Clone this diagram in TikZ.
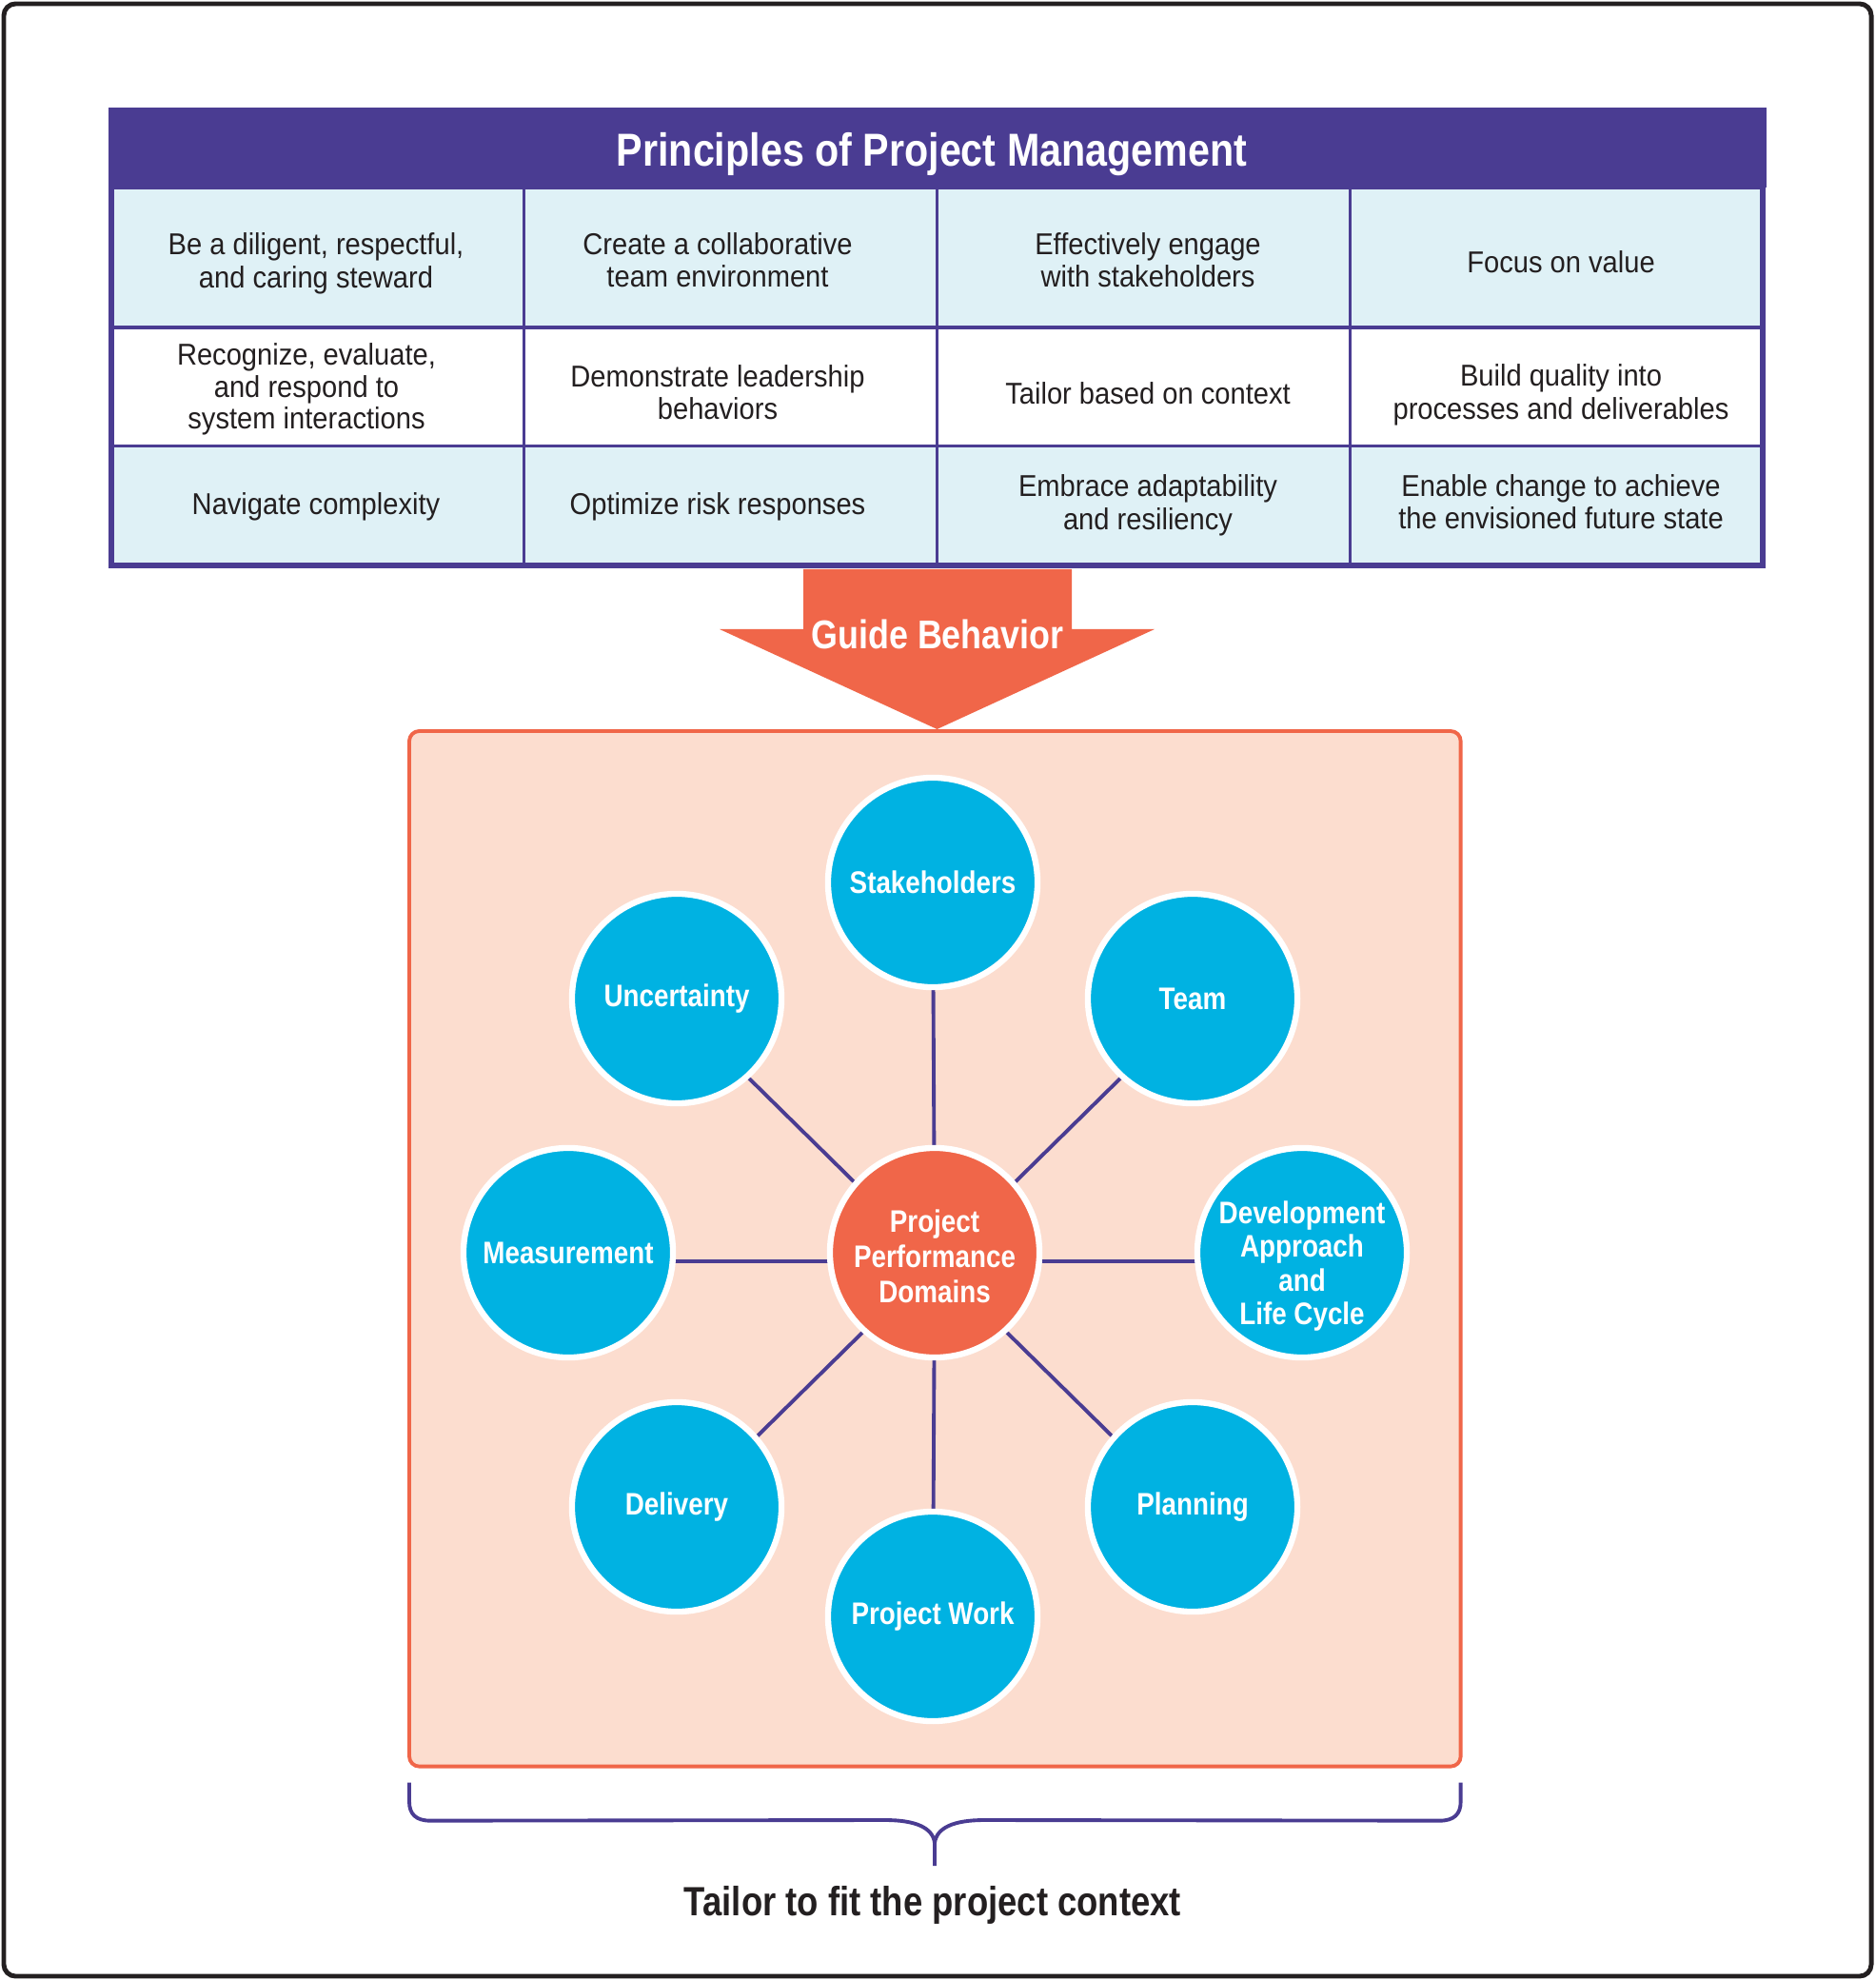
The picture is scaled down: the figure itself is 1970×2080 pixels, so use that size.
\documentclass[tikz,border=0pt]{standalone}
\usepackage{fontspec}
\setmainfont{Liberation Sans}[FakeStretch=0.92]
\newfontfamily\cbfam{Liberation Sans}[FakeStretch=0.85]
\definecolor{pmpurple}{RGB}{74,60,146}
\definecolor{pmcell}{RGB}{223,241,246}
\definecolor{pmorange}{RGB}{240,102,73}
\definecolor{pmsalmon}{RGB}{252,221,207}
\definecolor{pmblue}{RGB}{0,178,226}
\definecolor{pmink}{RGB}{35,31,32}
\pgfdeclarelayer{back}
\pgfdeclarelayer{links}
\pgfsetlayers{back,links,main}
\tikzset{
  cellbox/.style={draw=pmpurple, line width=0.9pt, minimum width=4.3375cm, inner sep=0pt, outer sep=0pt,
    anchor=north west},
  rowa/.style={cellbox, fill=pmcell, minimum height=1.47cm},
  rowb/.style={cellbox, fill=white, minimum height=1.245cm},
  rowc/.style={cellbox, fill=pmcell, minimum height=1.255cm},
  celltext/.style={align=center, text=pmink, inner sep=0pt, font=\fontsize{9}{9.8}\selectfont},
  dom/.style={circle, fill=pmblue, draw=white, line width=1.8pt, minimum size=2.2cm, inner sep=0pt,
    text=white, align=center, font=\cbfam\bfseries\fontsize{9.3}{10}\selectfont},
  hub/.style={dom, fill=pmorange},
  domtext/.style={text=white, align=center, inner sep=0pt, font=\cbfam\bfseries\fontsize{9.3}{10}\selectfont},
  link/.style={draw=pmpurple, line width=1.1pt},
}
\begin{document}
\begin{tikzpicture}[x=0.01cm, y=-0.01cm]
\useasboundingbox (0,0) rectangle (1970,2080);
% outer frame
\draw[pmink, line width=1.4pt, rounded corners=3.5pt] (4,4) rectangle (1966,2076);

% table header
\node[fill=pmpurple, minimum width=17.41cm, minimum height=0.84cm, anchor=north west, outer sep=0pt, inner sep=0pt] (title) at (114,113) {};
\node[text=white, inner sep=0pt, font=\cbfam\bfseries\fontsize{13.8}{15}\selectfont] (titletext) at (979,162.5) {Principles of Project Management};

% cells
\node[rowa] (c11) at (117,197) {};
\node[rowa] (c12) at (550.75,197) {};
\node[rowa] (c13) at (984.5,197) {};
\node[rowa] (c14) at (1418.25,197) {};
\node[rowb] (c21) at (117,344) {};
\node[rowb] (c22) at (550.75,344) {};
\node[rowb] (c23) at (984.5,344) {};
\node[rowb] (c24) at (1418.25,344) {};
\node[rowc] (c31) at (117,468.5) {};
\node[rowc] (c32) at (550.75,468.5) {};
\node[rowc] (c33) at (984.5,468.5) {};
\node[rowc] (c34) at (1418.25,468.5) {};
% table outline
\draw[pmpurple, line width=1.7pt] (117,116) rectangle (1852,594);

% cell texts
\node[celltext] (t11) at (332,277) {Be a diligent, respectful,\\and caring steward};
\node[celltext] (t12) at (754,273) {Create a collaborative\\team environment};
\node[celltext] (t13) at (1206,273) {Effectively engage\\with stakeholders};
\node[celltext] (t14) at (1640,275.5) {Focus on value};
\node[celltext, font=\fontsize{9}{9.45}\selectfont] (t21) at (322,409) {Recognize, evaluate,\\and respond to\\system interactions};
\node[celltext] (t22) at (754,412) {Demonstrate leadership\\behaviors};
\node[celltext] (t23) at (1206,413) {Tailor based on context};
\node[celltext] (t24) at (1640,415) {Build quality into\\processes and deliverables};
\node[celltext] (t31) at (332,532.5) {Navigate complexity};
\node[celltext] (t32) at (754,532.5) {Optimize risk responses};
\node[celltext] (t33) at (1206,531) {Embrace adaptability\\and resiliency};
\node[celltext] (t34) at (1640,527) {Enable change to achieve\\the envisioned future state};

% domain box
\begin{pgfonlayer}{back}
\node[draw=pmorange, fill=pmsalmon, line width=1.1pt, rounded corners=3pt, minimum width=11.04cm,
  minimum height=10.87cm, anchor=north west, outer sep=0pt] (dbox) at (430,768) {};
\end{pgfonlayer}

% guide arrow
\fill[pmorange] (844,598) -- (1126,598) -- (1126,661) -- (1213,661) -- (984.5,766) -- (756,661) -- (844,661) -- cycle;
\node[text=white, font=\cbfam\bfseries\fontsize{12}{14}\selectfont] (guide) at (985,666) {Guide Behavior};

% domains
\node[hub] (ctr) at (982,1316) {};
\node[domtext, font=\cbfam\bfseries\fontsize{9.3}{10.6}\selectfont] (ctrtext) at (982,1320) {Project\\Performance\\Domains};
\node[dom] (stk) at (980,927) {Stakeholders};
\node[dom] (team) at (1253,1049) {Team};
\node[dom] (dev) at (1368,1316) {};
\node[domtext] (devtext) at (1368,1330) {Development\\Approach\\and\\Life Cycle};
\node[dom] (plan) at (1253,1583) {Planning};
\node[dom] (work) at (980,1698) {Project Work};
\node[dom] (del) at (711,1583) {Delivery};
\node[dom] (meas) at (597,1316) {Measurement};
\node[dom] (unc) at (711,1049) {Uncertainty};

\begin{pgfonlayer}{links}
\foreach \s in {stk,team,dev,plan,work,del,meas,unc}
  \draw[link] ([yshift=-0.09cm]ctr.center) -- ([yshift=-0.09cm]\s.center);
\end{pgfonlayer}

% brace
\draw[pmpurple, line width=1.1pt] (dbox.south west) ++(0,17) -- ++(0,20)
  .. controls +(0,13) and +(-15,0) .. ++(22,20) -- (930,1912)
  .. controls (962,1912) and (980,1920) .. (982,1936) -- (982,1960);
\draw[pmpurple, line width=1.1pt] (dbox.south east) ++(0,17) -- ++(0,20)
  .. controls +(0,13) and +(15,0) .. ++(-22,20) -- (1034,1912)
  .. controls (1002,1912) and (984,1920) .. (982,1936);
\node[text=pmink, font=\cbfam\bfseries\fontsize{12.2}{14}\selectfont] (tailor) at (980,2001) {Tailor to fit the project context};
\end{tikzpicture}
\end{document}
